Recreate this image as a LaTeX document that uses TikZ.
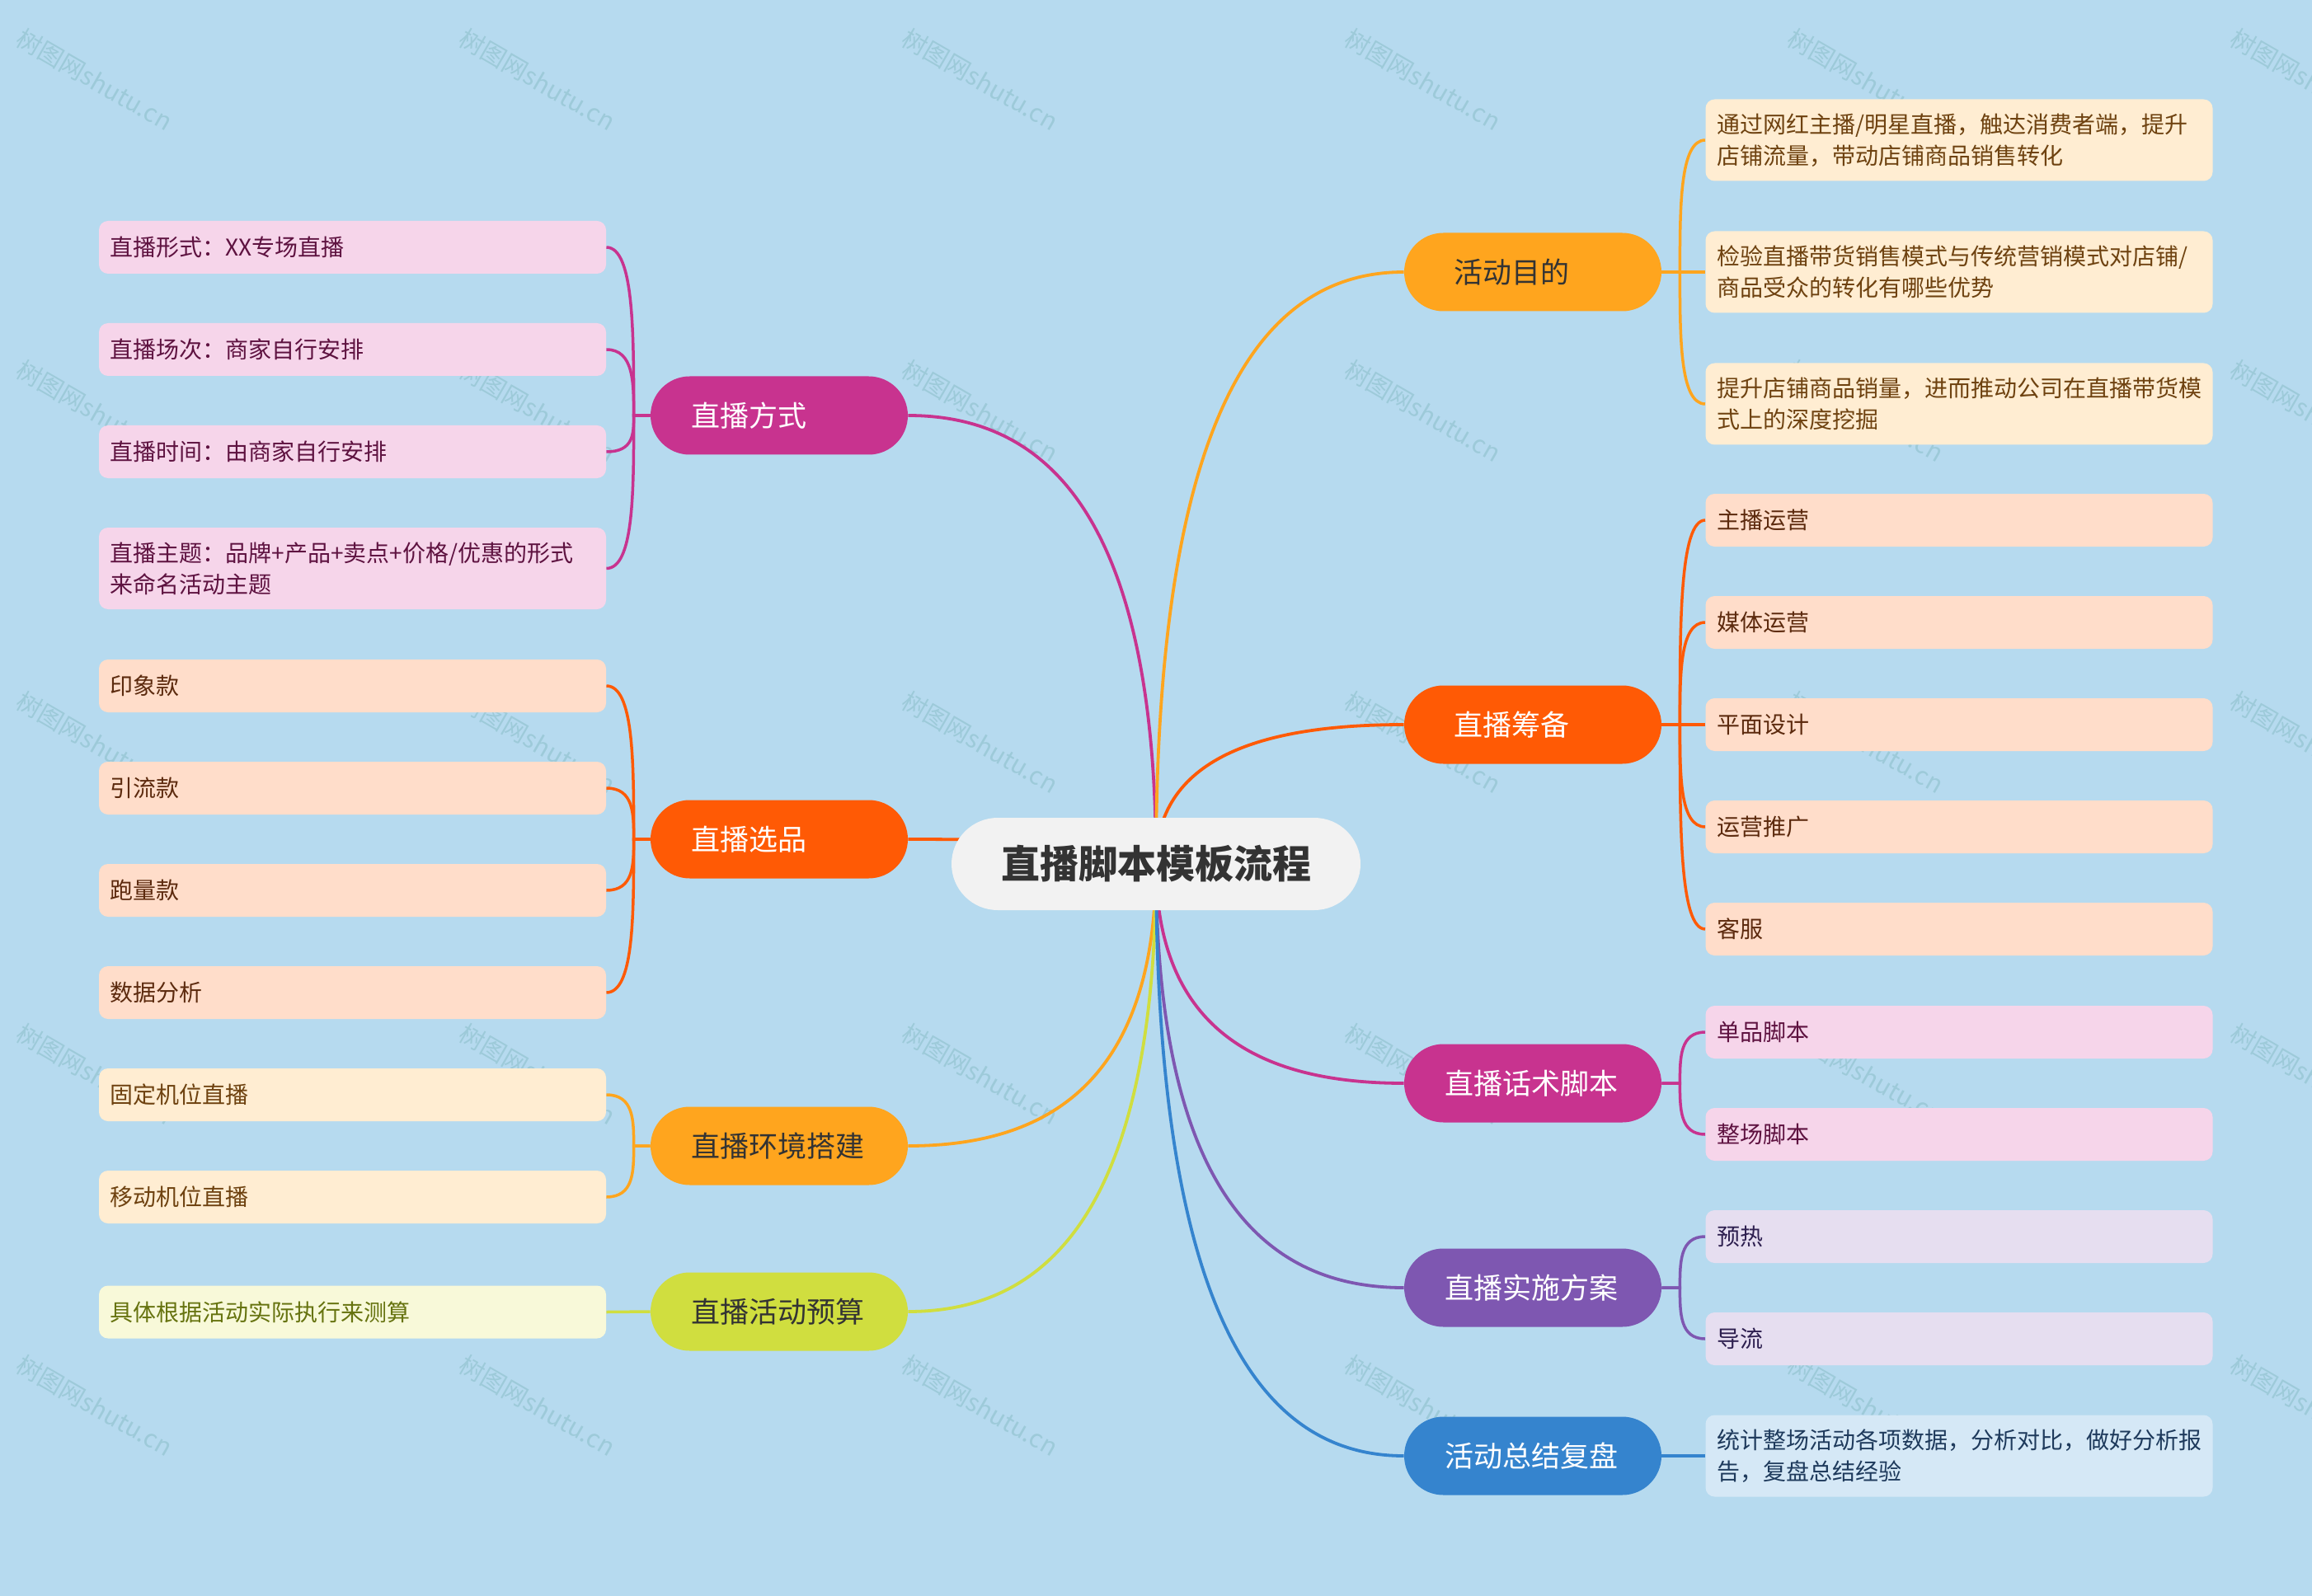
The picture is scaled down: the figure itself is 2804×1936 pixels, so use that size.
\documentclass[tikz,border=0pt]{standalone}
\usepackage{fontspec}
\setmainfont{Noto Sans CJK SC}
\usetikzlibrary{calc}
\pgfdeclarelayer{back}
\pgfsetlayers{back,main}

\definecolor{bgc}{HTML}{B6DAEF}
\definecolor{wmc}{HTML}{9DCAD9}
\definecolor{rootfill}{HTML}{F2F2F2}
\definecolor{roottext}{HTML}{333333}
\definecolor{cMag}{HTML}{C8338F}
\definecolor{cRed}{HTML}{FF5A05}
\definecolor{cOra}{HTML}{FFA51E}
\definecolor{cYel}{HTML}{D0DE3F}
\definecolor{cPur}{HTML}{7E57B1}
\definecolor{cBlu}{HTML}{3584CE}
\definecolor{fPink}{HTML}{F6D5EA}
\definecolor{tPink}{HTML}{5E1240}
\definecolor{fPeach}{HTML}{FFDDCA}
\definecolor{tPeach}{HTML}{5C2A0E}
\definecolor{fCream}{HTML}{FFEDD2}
\definecolor{tCream}{HTML}{6E4210}
\definecolor{fPale}{HTML}{F8F9D9}
\definecolor{tPale}{HTML}{66730F}
\definecolor{fLav}{HTML}{E6DEF0}
\definecolor{tLav}{HTML}{2D1F4F}
\definecolor{fLblu}{HTML}{D5E8F6}
\definecolor{tLblu}{HTML}{1E3A5C}

\newcommand\toL[2]{\draw[rc,#1] (root.center) .. controls ($(root.center)!0.8!(root.center|-#2.east)$) and ($(#2.east)!0.53!(root.center|-#2.east)$) .. (#2.east);}
\newcommand\toR[2]{\draw[rc,#1] (root.center) .. controls ($(root.center)!0.8!(root.center|-#2.west)$) and ($(#2.west)!0.53!(root.center|-#2.west)$) .. (#2.west);}
\newcommand\kidL[3]{\draw[kc,#1] (#2.west) -- ++(-20,0) coordinate (k) .. controls ($(k)!0.5!(k|-#3.east)$) and (k|-#3.east) .. (#3.east);}
\newcommand\kidR[3]{\draw[kc,#1] (#2.east) -- ++(22,0) coordinate (k) .. controls ($(k)!0.5!(k|-#3.west)$) and (k|-#3.west) .. (#3.west);}

\begin{document}
\begin{tikzpicture}[x=0.5pt,y=-0.5pt,
  rootbox/.style={fill=rootfill, text=roottext, rounded corners=28pt, minimum width=248pt, minimum height=56pt, inner sep=0pt, font=\fontsize{23.5pt}{28pt}\selectfont\bfseries},
  lone/.style={rounded corners=23.75pt, minimum width=156pt, minimum height=47.5pt, inner xsep=24.5pt, inner ysep=0pt, text width=107pt, align=left, font=\fontsize{17.5pt}{21pt}\selectfont},
  leaf/.style={rounded corners=5.5pt, text width=294pt, inner xsep=6.75pt, inner ysep=0pt, minimum height=32pt, align=left, font=\fontsize{14pt}{19pt}\selectfont},
  tall/.style={minimum height=49.5pt},
  pinkleaf/.style={leaf, fill=fPink, text=tPink},
  peachleaf/.style={leaf, fill=fPeach, text=tPeach},
  creamleaf/.style={leaf, fill=fCream, text=tCream},
  paleleaf/.style={leaf, fill=fPale, text=tPale},
  lavleaf/.style={leaf, fill=fLav, text=tLav},
  lbluleaf/.style={leaf, fill=fLblu, text=tLblu},
  rc/.style={line width=1.9pt},
  kc/.style={line width=1.75pt},
  wm/.style={text=wmc, rotate=-30, inner sep=0pt, font=\fontsize{15pt}{18pt}\selectfont}
]
\useasboundingbox (0,0) rectangle (2804,1936);

% root
\node[rootbox] (root) at (1402,1048) {直播脚本模板流程};

% level 1 left
\node[lone, fill=cMag, text=white] (fs) at (945,504) {直播方式};
\node[lone, fill=cRed, text=white] (xp) at (945,1018) {直播选品};
\node[lone, fill=cOra, text=roottext] (hj) at (945,1390) {直播环境搭建};
\node[lone, fill=cYel, text=roottext] (ys) at (945,1591) {直播活动预算};

% level 1 right
\node[lone, fill=cOra, text=roottext] (md) at (1859,330) {\hspace*{5.5pt}活动目的};
\node[lone, fill=cRed, text=white] (cb) at (1859,879) {\hspace*{5.5pt}直播筹备};
\node[lone, fill=cMag, text=white] (hs) at (1859,1314) {直播话术脚本};
\node[lone, fill=cPur, text=white] (ss) at (1859,1562) {直播实施方案};
\node[lone, fill=cBlu, text=white] (zj) at (1859,1766) {活动总结复盘};

% leaves left
\node[pinkleaf] (fs1) at (427.5,300) {直播形式：XX专场直播};
\node[pinkleaf] (fs2) at (427.5,424) {直播场次：商家自行安排};
\node[pinkleaf] (fs3) at (427.5,548) {直播时间：由商家自行安排};
\node[pinkleaf, tall] (fs4) at (427.5,689.5) {直播主题：品牌+产品+卖点+价格/优惠的形式\\来命名活动主题};

\node[peachleaf] (xp1) at (427.5,832) {印象款};
\node[peachleaf] (xp2) at (427.5,956) {引流款};
\node[peachleaf] (xp3) at (427.5,1080) {跑量款};
\node[peachleaf] (xp4) at (427.5,1204) {数据分析};

\node[creamleaf] (hj1) at (427.5,1328) {固定机位直播};
\node[creamleaf] (hj2) at (427.5,1452) {移动机位直播};

\node[paleleaf] (ys1) at (427.5,1591.5) {具体根据活动实际执行来测算};

% leaves right
\node[creamleaf, tall] (md1) at (2376,170) {通过网红主播/明星直播，触达消费者端，提升\\店铺流量，带动店铺商品销售转化};
\node[creamleaf, tall] (md2) at (2376,330) {检验直播带货销售模式与传统营销模式对店铺/\\商品受众的转化有哪些优势};
\node[creamleaf, tall] (md3) at (2376,490) {提升店铺商品销量，进而推动公司在直播带货模\\式上的深度挖掘};

\node[peachleaf] (cb1) at (2376,631) {主播运营};
\node[peachleaf] (cb2) at (2376,755) {媒体运营};
\node[peachleaf] (cb3) at (2376,879) {平面设计};
\node[peachleaf] (cb4) at (2376,1003) {运营推广};
\node[peachleaf] (cb5) at (2376,1127) {客服};

\node[pinkleaf] (hs1) at (2376,1252) {单品脚本};
\node[pinkleaf] (hs2) at (2376,1376) {整场脚本};

\node[lavleaf] (ss1) at (2376,1500) {预热};
\node[lavleaf] (ss2) at (2376,1624) {导流};

\node[lbluleaf, tall] (zj1) at (2376,1766) {统计整场活动各项数据，分析对比，做好分析报\\告，复盘总结经验};

\begin{pgfonlayer}{back}
  \fill[bgc] (0,0) rectangle (2804,1936);
  \foreach \i in {0,...,5} {
    \foreach \j in {0,...,4} {
      \node[wm] (wm-\i-\j) at (115+537*\i, 97+402*\j) {树图网shutu.cn};
    }
  }
  % root connectors
  \toL{cMag}{fs}
  \toL{cRed}{xp}
  \toL{cOra}{hj}
  \toL{cYel}{ys}
  \toR{cOra}{md}
  \toR{cRed}{cb}
  \toR{cMag}{hs}
  \toR{cPur}{ss}
  \toR{cBlu}{zj}
  % child connectors
  \kidL{cMag}{fs}{fs1}
  \kidL{cMag}{fs}{fs2}
  \kidL{cMag}{fs}{fs3}
  \kidL{cMag}{fs}{fs4}
  \kidL{cRed}{xp}{xp1}
  \kidL{cRed}{xp}{xp2}
  \kidL{cRed}{xp}{xp3}
  \kidL{cRed}{xp}{xp4}
  \kidL{cOra}{hj}{hj1}
  \kidL{cOra}{hj}{hj2}
  \draw[kc,cYel] (ys.west) -- (ys1.east);
  \kidR{cOra}{md}{md1}
  \kidR{cOra}{md}{md2}
  \kidR{cOra}{md}{md3}
  \kidR{cRed}{cb}{cb1}
  \kidR{cRed}{cb}{cb2}
  \kidR{cRed}{cb}{cb3}
  \kidR{cRed}{cb}{cb4}
  \kidR{cRed}{cb}{cb5}
  \kidR{cMag}{hs}{hs1}
  \kidR{cMag}{hs}{hs2}
  \kidR{cPur}{ss}{ss1}
  \kidR{cPur}{ss}{ss2}
  \draw[kc,cBlu] (zj.east) -- (zj1.west);
\end{pgfonlayer}
\end{tikzpicture}
\end{document}
